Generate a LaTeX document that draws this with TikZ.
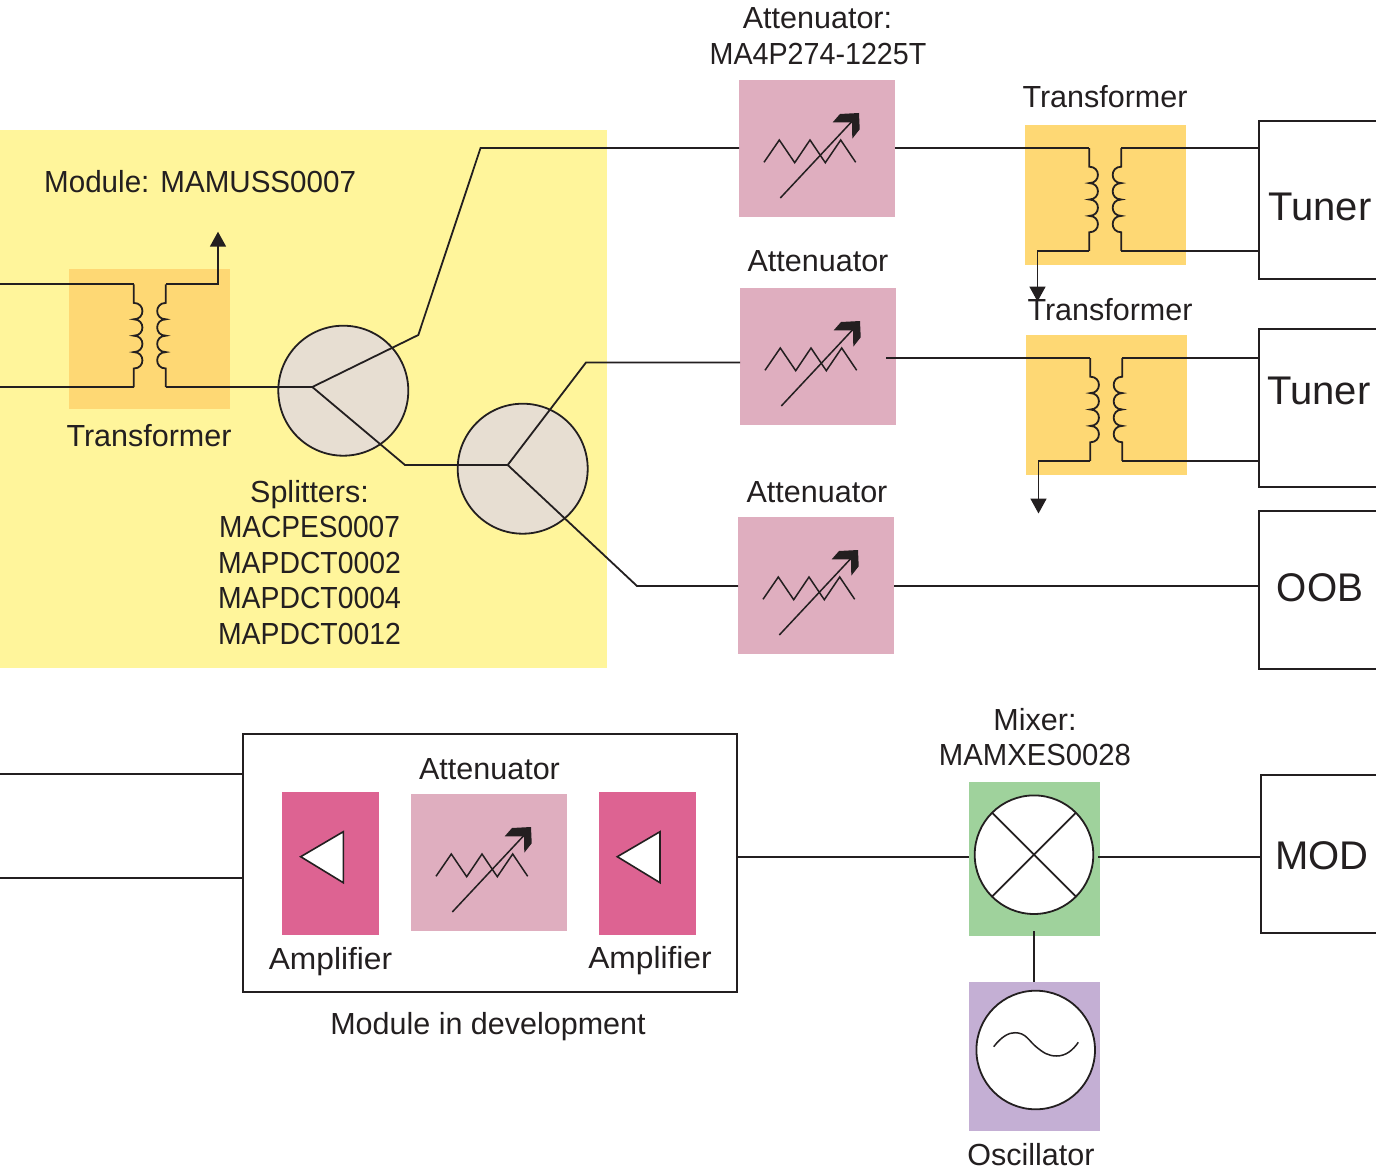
\documentclass[tikz,border=0pt]{standalone}
\usepackage{fontspec}
\setmainfont{Liberation Sans}
\usetikzlibrary{arrows.meta}
\definecolor{ink}{HTML}{231F20}
\definecolor{yel}{HTML}{FFF59B}
\definecolor{org}{HTML}{FED874}
\definecolor{att}{HTML}{DFAEBF}
\definecolor{amp}{HTML}{DD6392}
\definecolor{spl}{HTML}{E7DED2}
\definecolor{grn}{HTML}{9FD29C}
\definecolor{pur}{HTML}{C4AFD4}
\newcommand{\squeeze}[2]{\scalebox{#1}[1]{#2}}
\tikzset{
  x=1pt,y=-1pt,
  wire/.style={draw=ink,line width=1.8pt,line join=miter},
  tipwire/.style={wire,-{Triangle[width=16pt,length=15pt]}},
  lab/.style={inner sep=0pt,anchor=base,text=ink,font=\fontsize{30.5}{34}\selectfont},
  big/.style={inner sep=0pt,text=ink,font=\fontsize{40}{44}\selectfont},
  block/.style={inner sep=0pt,outer sep=0pt,draw=none},
  attbox/.style={block,fill=att,minimum width=156pt,minimum height=137pt},
  xfbox/.style={block,fill=org,minimum width=161pt,minimum height=140pt},
  ampbox/.style={block,fill=amp,minimum width=97pt,minimum height=143pt},
  opbox/.style={block,fill=#1,minimum width=131pt},
  split/.style={circle,draw=ink,fill=spl,line width=1.8pt,minimum size=130pt,inner sep=0pt,outer sep=0pt},
  ring/.style={circle,draw=ink,fill=white,line width=1.8pt,minimum size=118.6pt,inner sep=0pt,outer sep=0pt},
  term/.style={inner sep=0pt,outer sep=0pt,minimum width=117pt,minimum height=158pt},
  atticon/.pic={
    \draw[ink,line width=1.5pt,line join=miter]
      (-53,13.8)--(-37.7,-8.5)--(-22.3,14.2)--(-7,-8.5)--(8.3,14.2)--(23.7,-8.5)--(38.7,13.8);
    \draw[ink,line width=1.5pt] (-36.7,49.5)--(34.7,-26.8);
    \fill[ink] (15.7,-26.2)--(23,-34.5)--(42,-35.5)--(42.7,-19.2)--(35.3,-9.8)--(35,-26)--cycle;
  },
  xfmr/.pic={
    \coordinate (-a) at (-16,-51.4);
    \coordinate (-b) at (-16,51.3);
    \coordinate (-c) at (16,-51.4);
    \coordinate (-d) at (16,51.3);
    \draw[wire] (-16,-51.4)--(-16,-32.8)
      .. controls (-4.5,-32.8) and (-4.5,-16.4) .. (-16,-16.4)
      .. controls (-4.5,-16.4) and (-4.5,0) .. (-16,0)
      .. controls (-4.5,0) and (-4.5,16.4) .. (-16,16.4)
      .. controls (-4.5,16.4) and (-4.5,32.8) .. (-16,32.8)
      --(-16,51.3);
    \draw[wire] (16,-51.4)--(16,-32.8)
      .. controls (4.5,-32.8) and (4.5,-16.4) .. (16,-16.4)
      .. controls (4.5,-16.4) and (4.5,0) .. (16,0)
      .. controls (4.5,0) and (4.5,16.4) .. (16,16.4)
      .. controls (4.5,16.4) and (4.5,32.8) .. (16,32.8)
      --(16,51.3);
  },
}
\begin{document}
\begin{tikzpicture}
\path[use as bounding box,fill=white] (0,0) rectangle (1376,1169);
% yellow module
\fill[yel] (0,130) rectangle (607,668);
% blocks
\node[xfbox] (x0) at (149.5,339) {};
\node[xfbox] (x1) at (1105.5,195) {};
\node[xfbox] (x2) at (1106.5,405) {};
\node[attbox] (att1) at (817,148.5) {};
\node[attbox] (att2) at (818,356.5) {};
\node[attbox] (att3) at (816,585.5) {};
\node[draw=ink,line width=1.8pt,inner sep=0pt,outer sep=0pt,minimum width=494pt,minimum height=258pt] (dev) at (490,863) {};
\node[attbox] (att4) at (489,862.5) {};
\node[ampbox] (amp1) at (330.6,863) {};
\node[ampbox] (amp2) at (647.4,863) {};
\node[opbox=grn,minimum height=154pt] (mixbox) at (1034.5,859) {};
\node[opbox=pur,minimum height=149pt] (oscbox) at (1034.5,1056.5) {};
% icons
\pic at (att1.center) {atticon};
\pic at (att2.center) {atticon};
\pic at (att3.center) {atticon};
\pic at (att4.center) {atticon};
\pic (t0) at (149.8,335.7) {xfmr};
\pic (t1) at (1105.3,199.5) {xfmr};
\pic (t2) at (1106.3,409.5) {xfmr};
% amplifier triangles
\draw[ink,fill=white,line width=1.6pt,line join=miter] (300.7,856.7)--(343.3,831.7)--(343.3,882.7)--cycle;
\draw[ink,fill=white,line width=1.6pt,line join=miter] (617.3,856.7)--(660,831.7)--(660,882.7)--cycle;
% splitters
\node[split] (s1) at (343.3,390.7) {};
\node[split] (s2) at (522.7,468.7) {};
% terminals (open to the right edge)
\node[term] (tun1) at (1317.5,200) {};
\node[term] (tun2) at (1317.5,408) {};
\node[term] (oob) at (1317.5,590) {};
\node[term,minimum width=115pt] (mod) at (1318.5,854) {};
\foreach \t in {tun1,tun2,oob,mod}
  \draw[wire] (\t.north east)--(\t.north west)--(\t.south west)--(\t.south east);
% named connection points
\coordinate (j1) at (312.3,387);
\coordinate (j2) at (507.7,465);
\coordinate (k1) at (418.3,335);
\coordinate (k2) at (480.5,148.1);
\coordinate (k3) at (405,465);
\coordinate (k4) at (586,362.5);
\coordinate (k5) at (637,586);
\coordinate (edge) at (0,0);
\coordinate (in3) at (0,774);
\coordinate (in4) at (0,878);
\coordinate (w2) at (886,358.1);
\coordinate (a0) at (218,231.7);
\coordinate (a1) at (1037.5,301.5);
\coordinate (a2) at (1038.5,513.5);
\coordinate (mixw) at (1098,857);
\coordinate (mixs) at (1033.5,931);
% wires
\draw[wire] (edge|-t0-a)--(t0-a);
\draw[wire] (edge|-t0-b)--(t0-b);
\draw[tipwire] (t0-c)-|(a0);
\draw[wire] (t0-d)--(j1);
\draw[wire] (j1)--(k1)--(k2)--(k2-|att1.west);
\draw[wire] (j1)--(k3)--(j2);
\draw[wire] (j2)--(k4)--(k4-|att2.west);
\draw[wire] (j2)--(k5)--(k5-|att3.west);
\draw[wire] (att1.east|-t1-a)--(t1-a);
\draw[wire] (w2)--(t2-a);
\draw[wire] (t1-c)--(t1-c-|tun1.west);
\draw[wire] (t1-d)--(t1-d-|tun1.west);
\draw[wire] (t2-c)--(t2-c-|tun2.west);
\draw[wire] (t2-d)--(t2-d-|tun2.west);
\draw[tipwire] (t1-b)-|(a1);
\draw[tipwire] (t2-b)-|(a2);
\draw[wire] (att3.east|-k5)--(k5-|oob.west);
\draw[wire] (in3)--(in3-|dev.west);
\draw[wire] (in4)--(in4-|dev.west);
\draw[wire] (dev.east|-mixw)--(mixw-|mixbox.west);
\draw[wire] (mixw)--(mixw-|mod.west);
\draw[wire,line width=2pt] (mixs)--(mixs|-oscbox.north);
% mixer and oscillator
\node[ring] (mix) at (1034,854.7) {};
\draw[wire] (mix.45)--(mix.225);
\draw[wire] (mix.135)--(mix.315);
\node[ring] (osc) at (1035.7,1050) {};
\draw[ink,line width=1.5pt] (993.7,1046.7)
  .. controls (1002,1036) and (1009,1032.7) .. (1015,1032.7)
  .. controls (1026,1032.7) and (1029,1041) .. (1036,1046.7)
  .. controls (1043,1052.5) and (1048,1056) .. (1056.7,1056)
  .. controls (1066,1056) and (1073,1050) .. (1078.3,1042.3);
% labels
\node[lab] (l1) at (817.5,28.5) {Attenuator:};
\node[lab] (l2) at (818,64.5) {\squeeze{0.94}{MA4P274-1225T}};
\node[lab] (l3) at (1105,107.5) {Transformer};
\node[lab] (l4) at (818,271.5) {Attenuator};
\node[lab] (l5) at (1110,320.5) {Transformer};
\node[lab] (l6) at (817,502.5) {Attenuator};
\node[lab,anchor=base west] (l7) at (44,192.5) {\squeeze{0.97}{Module: MAMUSS0007}};
\node[lab] (l8) at (149,446.5) {Transformer};
\node[lab] (l9) at (309.5,502.5) {Splitters:};
\node[lab] (l10) at (309.5,537.5) {\squeeze{0.92}{MACPES0007}};
\node[lab] (l11) at (309.5,573) {\squeeze{0.93}{MAPDCT0002}};
\node[lab] (l12) at (309.5,608.5) {\squeeze{0.93}{MAPDCT0004}};
\node[lab] (l13) at (309.5,644) {\squeeze{0.93}{MAPDCT0012}};
\node[lab] (l14) at (489.5,779.5) {Attenuator};
\node[lab] (l15) at (330.5,969) {\squeeze{1.04}{Amplifier}};
\node[lab] (l16) at (650,968) {\squeeze{1.04}{Amplifier}};
\node[lab] (l17) at (488,1034.5) {Module in development};
\node[lab] (l18) at (1035,730.5) {Mixer:};
\node[lab] (l19) at (1035,765.5) {\squeeze{0.96}{MAMXES0028}};
\node[lab] (l20) at (1031,1165) {Oscillator};
\node[big] at (1320,207) {Tuner};
\node[big] at (1319,391) {Tuner};
\node[big] at (1320,588) {\squeeze{0.97}{OOB}};
\node[big] at (1322,856) {MOD};
\end{tikzpicture}
\end{document}
